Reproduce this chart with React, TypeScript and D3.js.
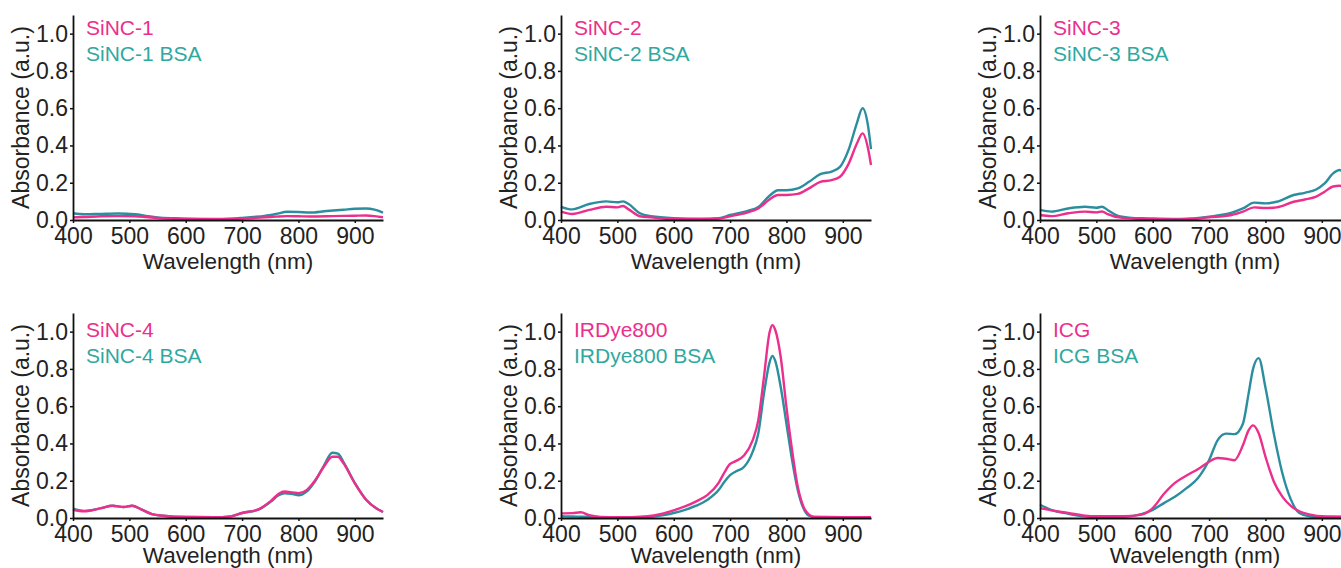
import * as d3 from "d3";
import { useRef, useEffect } from "react";

const WIDTH = 1341;
const HEIGHT = 568;

const xTicks = [400, 500, 600, 700, 800, 900];
const yTicks = [0, 0.2, 0.4, 0.6, 0.8, 1.0];

// SiNC-1
const sinc1Wl = [400, 420, 450, 480, 510, 530, 550, 580, 600, 650, 680, 700, 720, 740, 760, 780, 800, 820, 850, 880, 900, 920, 935, 950];
const sinc1 = [0.014, 0.016, 0.02, 0.021, 0.02, 0.016, 0.011, 0.007, 0.005, 0.004, 0.005, 0.008, 0.011, 0.014, 0.018, 0.021, 0.02, 0.019, 0.02, 0.022, 0.023, 0.024, 0.021, 0.015];
const sinc1Bsa = [0.036, 0.031, 0.033, 0.035, 0.031, 0.022, 0.014, 0.009, 0.007, 0.005, 0.007, 0.011, 0.016, 0.022, 0.032, 0.044, 0.043, 0.04, 0.048, 0.055, 0.06, 0.062, 0.056, 0.04];

// SiNC-2
const sinc2Wl = [400, 420, 450, 480, 500, 510, 520, 540, 560, 600, 650, 680, 700, 730, 750, 770, 785, 800, 820, 840, 860, 880, 895, 910, 925, 935, 945, 950];
const sinc2 = [0.045, 0.032, 0.054, 0.071, 0.068, 0.075, 0.057, 0.02, 0.014, 0.005, 0.004, 0.008, 0.02, 0.04, 0.062, 0.11, 0.134, 0.134, 0.14, 0.17, 0.205, 0.214, 0.232, 0.3, 0.41, 0.465, 0.38, 0.295];
const sinc2Bsa = [0.071, 0.057, 0.086, 0.1, 0.095, 0.1, 0.086, 0.036, 0.02, 0.01, 0.007, 0.01, 0.027, 0.048, 0.07, 0.13, 0.16, 0.16, 0.17, 0.205, 0.246, 0.26, 0.285, 0.375, 0.52, 0.6, 0.5, 0.38];

// SiNC-3
const sinc3Wl = [400, 420, 450, 480, 500, 510, 520, 540, 580, 600, 650, 700, 740, 760, 780, 800, 820, 850, 870, 890, 905, 920, 932, 942, 950];
const sinc3 = [0.027, 0.021, 0.036, 0.045, 0.041, 0.046, 0.032, 0.014, 0.006, 0.004, 0.003, 0.014, 0.027, 0.045, 0.068, 0.064, 0.068, 0.098, 0.11, 0.125, 0.152, 0.18, 0.184, 0.165, 0.13];
const sinc3Bsa = [0.054, 0.045, 0.062, 0.071, 0.066, 0.071, 0.054, 0.021, 0.009, 0.008, 0.006, 0.018, 0.039, 0.062, 0.093, 0.089, 0.098, 0.134, 0.146, 0.164, 0.196, 0.25, 0.268, 0.23, 0.17];

// SiNC-4
const sinc4Wl = [400, 420, 450, 470, 490, 505, 520, 540, 560, 600, 650, 680, 700, 730, 750, 765, 775, 790, 800, 815, 830, 845, 860, 870, 880, 900, 920, 940, 950];
const sinc4 = [0.044, 0.036, 0.053, 0.066, 0.059, 0.066, 0.048, 0.021, 0.012, 0.005, 0.004, 0.009, 0.027, 0.048, 0.089, 0.13, 0.142, 0.137, 0.133, 0.151, 0.204, 0.275, 0.329, 0.329, 0.293, 0.186, 0.098, 0.048, 0.032];
const sinc4Bsa = [0.05, 0.038, 0.053, 0.066, 0.059, 0.066, 0.048, 0.021, 0.012, 0.005, 0.004, 0.009, 0.027, 0.046, 0.085, 0.122, 0.132, 0.128, 0.122, 0.143, 0.2, 0.28, 0.35, 0.345, 0.3, 0.188, 0.098, 0.048, 0.032];

// IRDye800
const irdyeWl = [400, 420, 435, 450, 470, 500, 550, 580, 600, 620, 640, 660, 680, 690, 700, 710, 725, 740, 750, 760, 770, 775, 780, 790, 800, 810, 820, 830, 840, 850, 900, 950];
const irdye = [0.025, 0.026, 0.031, 0.015, 0.006, 0.004, 0.009, 0.023, 0.041, 0.062, 0.089, 0.124, 0.19, 0.245, 0.29, 0.305, 0.337, 0.417, 0.524, 0.755, 0.995, 1.035, 1.01, 0.86, 0.595, 0.364, 0.169, 0.062, 0.018, 0.005, 0.004, 0.004];
const irdyeBsa = [0.009, 0.008, 0.007, 0.006, 0.004, 0.002, 0.005, 0.015, 0.027, 0.044, 0.066, 0.098, 0.151, 0.195, 0.23, 0.249, 0.275, 0.355, 0.453, 0.666, 0.835, 0.87, 0.844, 0.7, 0.506, 0.311, 0.151, 0.053, 0.012, 0.005, 0.004, 0.004];

// ICG
const icgWl = [400, 420, 450, 480, 500, 550, 580, 600, 620, 640, 660, 680, 700, 715, 730, 745, 760, 770, 778, 788, 800, 815, 830, 845, 860, 880, 900, 950];
const icg = [0.053, 0.041, 0.027, 0.012, 0.009, 0.009, 0.018, 0.053, 0.13, 0.19, 0.228, 0.262, 0.302, 0.322, 0.318, 0.31, 0.39, 0.47, 0.497, 0.455, 0.329, 0.195, 0.115, 0.065, 0.036, 0.018, 0.009, 0.006];
const icgBsa = [0.071, 0.044, 0.023, 0.009, 0.006, 0.008, 0.021, 0.044, 0.08, 0.115, 0.16, 0.213, 0.311, 0.417, 0.453, 0.45, 0.506, 0.666, 0.8, 0.858, 0.7, 0.45, 0.24, 0.1, 0.027, 0.008, 0.005, 0.005];

const panels = [
  { name: "SiNC-1", wl: sinc1Wl, free: sinc1, bsa: sinc1Bsa, col: 0, row: 0 },
  { name: "SiNC-2", wl: sinc2Wl, free: sinc2, bsa: sinc2Bsa, col: 1, row: 0 },
  { name: "SiNC-3", wl: sinc3Wl, free: sinc3, bsa: sinc3Bsa, col: 2, row: 0 },
  { name: "SiNC-4", wl: sinc4Wl, free: sinc4, bsa: sinc4Bsa, col: 0, row: 1 },
  { name: "IRDye800", wl: irdyeWl, free: irdye, bsa: irdyeBsa, col: 1, row: 1 },
  { name: "ICG", wl: icgWl, free: icg, bsa: icgBsa, col: 2, row: 1 },
];

const colLeft = [73, 561, 1040];
const rowBottom = [220, 518];
const legendBase = [35, 337];
const titleBase = [269, 563];
const tickPad = [5, 5];
const plotW = 310;
const plotH = 205;

const PINK = "#ec2f8c";
const TEAL_LINE = "#2b8e9e";
const TEAL_TEXT = "#2fa8a0";
const FONT = "'Liberation Sans', Arial, Helvetica, sans-serif";

const Panel = ({ p }) => {
  const xAxisRef = useRef(null);
  const yAxisRef = useRef(null);

  const left = colLeft[p.col];
  const bottom = rowBottom[p.row];

  const x = d3.scaleLinear().domain([400, 950]).range([left, left + plotW]);
  const y = d3.scaleLinear().domain([0, 1.1]).range([bottom, bottom - plotH]);

  const line = d3
    .line()
    .curve(d3.curveMonotoneX)
    .x((d, i) => x(p.wl[i]))
    .y((d) => y(d));

  useEffect(() => {
    const styleAxis = (g) => {
      g.attr("font-size", null).attr("font-family", null);
      g.select(".domain").attr("stroke", "#111").attr("stroke-width", 1.8);
      g.selectAll(".tick line").attr("stroke", "#111").attr("stroke-width", 1.5);
      g.selectAll(".tick text")
        .attr("fill", "#222")
        .attr("font-size", 23)
        .attr("font-family", FONT);
    };

    d3.select(xAxisRef.current)
      .call(
        d3
          .axisBottom(x)
          .tickValues(xTicks)
          .tickSize(3)
          .tickSizeOuter(0)
          .tickPadding(tickPad[p.row]),
      )
      .call(styleAxis);

    d3.select(yAxisRef.current)
      .call(
        d3
          .axisLeft(y)
          .tickValues(yTicks)
          .tickFormat(d3.format(".1f"))
          .tickSize(3)
          .tickSizeOuter(0)
          .tickPadding(2),
      )
      .call(styleAxis);
    /*eslint-disable-next-line*/
  }, []);

  return (
    <g>
      <path d={line(p.bsa)} fill="none" stroke={TEAL_LINE} strokeWidth={2.4} />
      <path d={line(p.free)} fill="none" stroke={PINK} strokeWidth={2.4} />
      <g ref={xAxisRef} transform={`translate(0,${bottom})`} />
      <g ref={yAxisRef} transform={`translate(${left},0)`} />
      <text
        x={left - 52}
        y={bottom - plotH / 2}
        transform={`rotate(-90,${left - 52},${bottom - plotH / 2})`}
        textAnchor="middle"
        dominantBaseline="central"
        fontSize={23}
        fontFamily={FONT}
        fill="#222"
      >
        Absorbance (a.u.)
      </text>
      <text
        x={left + plotW / 2}
        y={titleBase[p.row]}
        textAnchor="middle"
        fontSize={22.5}
        fontFamily={FONT}
        fill="#222"
      >
        Wavelength (nm)
      </text>
      <text
        x={left + 13}
        y={legendBase[p.row]}
        fontSize={21}
        fontFamily={FONT}
        fill={PINK}
      >
        {p.name}
      </text>
      <text
        x={left + 13}
        y={legendBase[p.row] + 26}
        fontSize={21}
        fontFamily={FONT}
        fill={TEAL_TEXT}
      >
        {p.name + " BSA"}
      </text>
    </g>
  );
}

export default function App() {
  return (
    <svg
      width={WIDTH}
      height={HEIGHT}
      style={{ position: "absolute", left: 0, top: 0, background: "#fff" }}
    >
      {panels.map((p) => (
        <Panel key={p.name} p={p} />
      ))}
    </svg>
  );
}
